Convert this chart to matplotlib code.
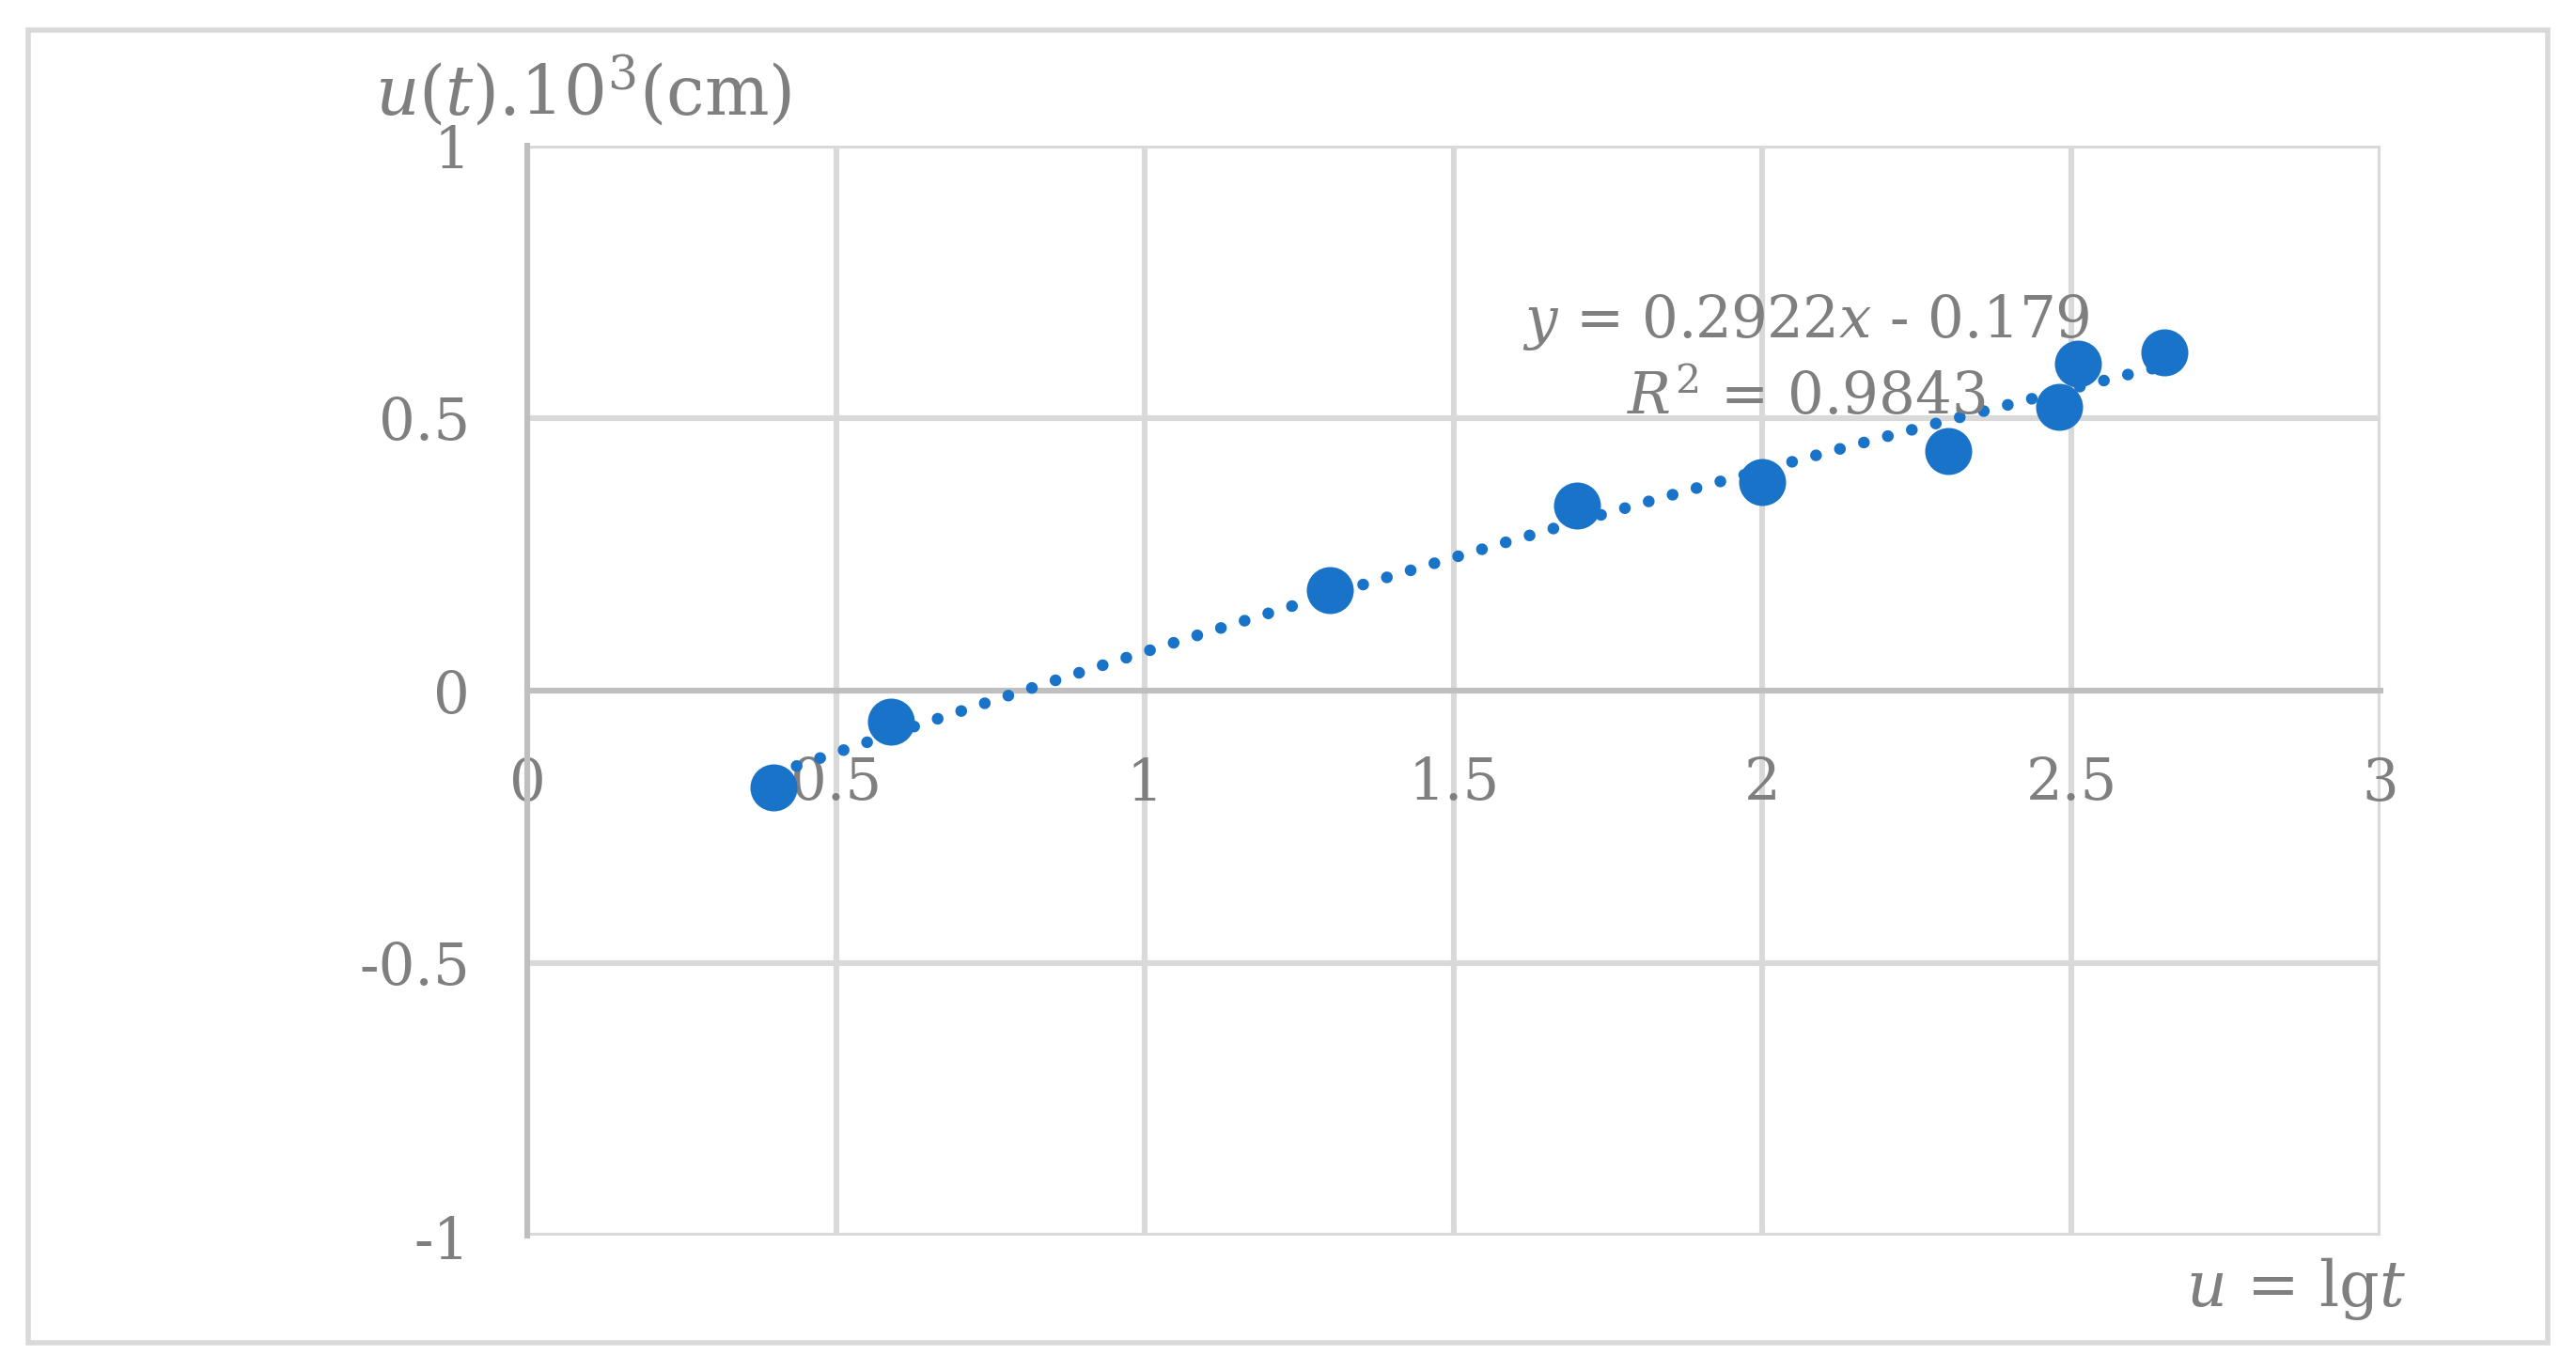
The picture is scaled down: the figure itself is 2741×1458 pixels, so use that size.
import numpy as np
import matplotlib
matplotlib.use("Agg")
import matplotlib.pyplot as plt
from matplotlib.patches import Rectangle

plt.rcParams['font.family'] = ['DejaVu Serif']
plt.rcParams['mathtext.fontset'] = 'dejavuserif'

# data
u = [0.398, 0.588, 1.30, 1.70, 2.00, 2.30, 2.48, 2.51, 2.65]
disp = [-0.178, -0.057, 0.184, 0.340, 0.383, 0.440, 0.520, 0.600, 0.620]
x_ticks = [0, 0.5, 1, 1.5, 2, 2.5, 3]
x_tick_labels = ["0", "0.5", "1", "1.5", "2", "2.5", "3"]
y_ticks = [-1, -0.5, 0, 0.5, 1]
y_tick_labels = ["-1", "-0.5", "0", "0.5", "1"]

grey_text = "#7f7f7f"
grid_col = "#d9d9d9"
axis_col = "#bfbfbf"
blue = "#1873C9"

fig = plt.figure(figsize=(13.705, 7.29), dpi=200)
ax = fig.add_axes([0.2047, 0.098, 0.924 - 0.2047, 0.894 - 0.098])

# outer frame of the chart
fig.patches.append(Rectangle((0.011, 0.02), 0.978, 0.958, transform=fig.transFigure,
                             fill=False, edgecolor=grid_col, linewidth=2.0))

ax.set_xlim(0, 3)
ax.set_ylim(-1, 1)
ax.set_xticks(x_ticks)
ax.set_xticklabels(x_tick_labels)
ax.set_yticks(y_ticks)
ax.set_yticklabels(y_tick_labels)
ax.grid(True, color=grid_col, linewidth=2.2)
ax.set_axisbelow(True)

for side in ["top", "right"]:
    ax.spines[side].set_visible(False)
ax.spines["bottom"].set_position(("data", 0))
ax.spines["bottom"].set_color(axis_col)
ax.spines["bottom"].set_linewidth(2.2)
ax.spines["left"].set_color(axis_col)
ax.spines["left"].set_linewidth(2.2)
ax.tick_params(axis="both", length=0, labelsize=22, labelcolor=grey_text)
ax.tick_params(axis="x", pad=25)
ax.tick_params(axis="y", pad=22)

# trendline (dotted) across the data range
coef = np.polyfit(u, disp, 2)
xs = np.linspace(min(u), max(u), 200)
ax.plot(xs, np.polyval(coef, xs), color=blue, linewidth=4.5,
        linestyle=(0, (0.01, 2.1)), dash_capstyle="round", zorder=3)

ax.plot(u, disp, "o", color=blue, markersize=17, zorder=4, clip_on=False)

ax.text(2.07, 0.675, r"$y$ = 0.2922$x$ - 0.179", color=grey_text, fontsize=22,
        ha="center", va="center")
ax.text(2.07, 0.536, r"$R^2$ = 0.9843", color=grey_text, fontsize=22,
        ha="center", va="center")

fig.text(0.1455, 0.934, r"$u(t)$.10$^3$(cm)", color=grey_text, fontsize=26,
         ha="left", va="center")
fig.text(0.934, 0.059, r"$u$ = lg$t$", color=grey_text, fontsize=24,
         ha="right", va="center")

fig.savefig("out.png", dpi=200)
